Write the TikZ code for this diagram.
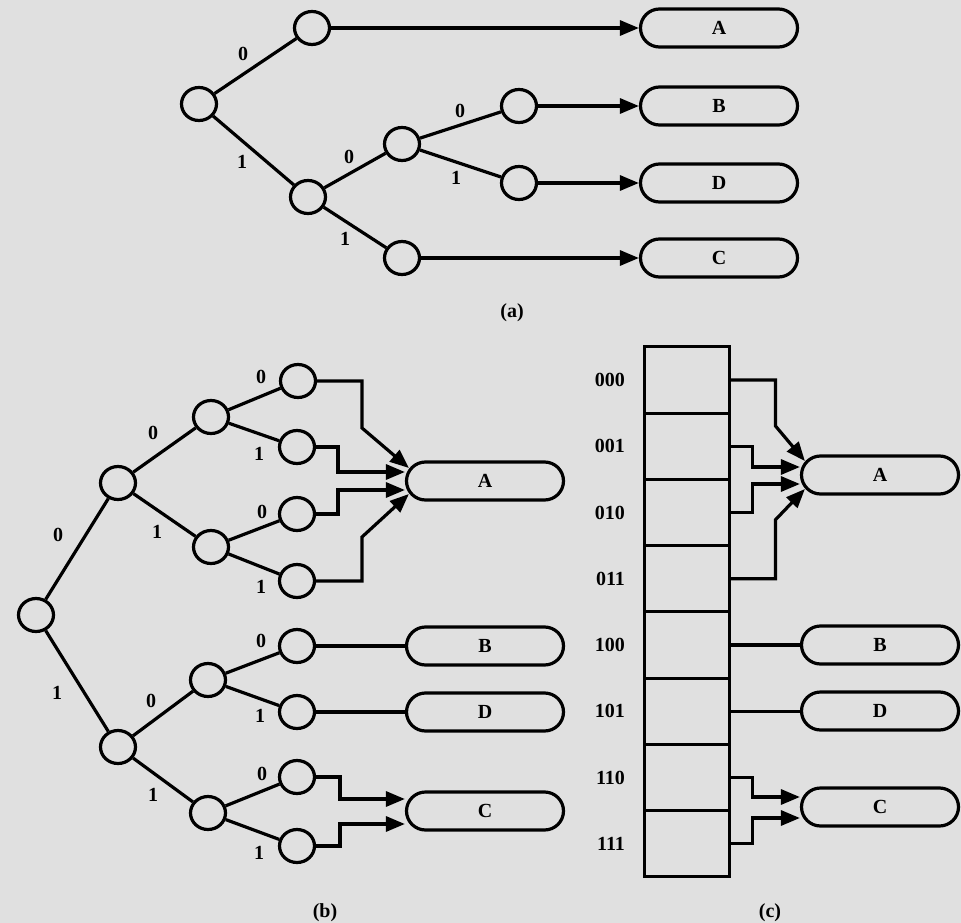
\documentclass[tikz,border=0pt]{standalone}
\usepackage{fontspec}
\setmainfont{Liberation Serif}
\usetikzlibrary{positioning,shapes.geometric,arrows.meta}
\definecolor{paper}{RGB}{224,224,224}
\tikzset{
  tnode/.style={ellipse, draw, minimum width=35pt, minimum height=33pt, inner sep=0pt},
  leafbox/.style={rectangle, draw, rounded corners=19pt, minimum width=157pt, minimum height=38pt, font=\bfseries\fontsize{20}{20}\selectfont},
  lab/.style={inner sep=1pt, font=\bfseries\fontsize{20}{20}\selectfont},
  cell/.style={rectangle, draw, minimum width=85pt, minimum height=66.25pt, inner sep=0pt, outer sep=0pt},
  arr/.style={-{Triangle[length=19pt,width=15pt]}}
}
\begin{document}
\begin{tikzpicture}[x=1pt, y=-1pt, line width=3.2pt]
      \useasboundingbox[fill=paper] (0,0) rectangle (961,923);
      % (a)
      \node (aR) at (199,104) [tnode] {};
      \node (a0) at (312,28) [tnode] {};
      \node (a1) at (308,197) [tnode] {};
      \node (a10) at (402,144) [tnode] {};
      \node (a11) at (402,258) [tnode] {};
      \node (a100) at (519,106) [tnode] {};
      \node (a101) at (519,183) [tnode] {};
      \node (aA) at (719,28) [leafbox] {A};
      \node (aB) at (719,106) [leafbox] {B};
      \node (aD) at (719,183) [leafbox] {D};
      \node (aC) at (719,258) [leafbox] {C};
      \foreach \source/\dest in {aR/a0, aR/a1, a1/a10, a1/a11, a10/a100, a10/a101}
        \path (\source) edge (\dest);
      \foreach \source/\dest in {a0/aA, a100/aB, a101/aD, a11/aC}
        \draw[arr] (\source) -- (\dest);
      \node (la0) at (243,54) [lab] {0};
      \node (la1) at (242,162) [lab] {1};
      \node (la10) at (349,157) [lab] {0};
      \node (la11) at (345,239) [lab] {1};
      \node (la100) at (460,111) [lab] {0};
      \node (la101) at (456,178) [lab] {1};
      \node (capa) at (512,313) [lab] {(a)};
      % (b)
      \node (bR) at (36,615) [tnode] {};
      \node (b0) at (118,483) [tnode] {};
      \node (b1) at (118,747) [tnode] {};
      \node (b00) at (211,417) [tnode] {};
      \node (b01) at (211,547) [tnode] {};
      \node (b10) at (208,680) [tnode] {};
      \node (b11) at (208,813) [tnode] {};
      \node (b000) at (298,381) [tnode] {};
      \node (b001) at (297,447) [tnode] {};
      \node (b010) at (297,514) [tnode] {};
      \node (b011) at (297,581) [tnode] {};
      \node (b100) at (297,646) [tnode] {};
      \node (b101) at (297,712) [tnode] {};
      \node (b110) at (297,777) [tnode] {};
      \node (b111) at (297,846) [tnode] {};
      \node (bA) at (485,481) [leafbox] {A};
      \node (bB) at (485,646) [leafbox] {B};
      \node (bD) at (485,712) [leafbox] {D};
      \node (bC) at (485,811) [leafbox] {C};
      \foreach \source/\dest in {bR/b0, bR/b1, b0/b00, b0/b01, b1/b10, b1/b11, b00/b000, b00/b001, b01/b010, b01/b011, b10/b100, b10/b101, b11/b110, b11/b111}
        \path (\source) edge (\dest);
      \draw[arr] (b000) -- ++(64,0) -- ++(0,47) -- ([xshift=4pt,yshift=13pt]bA.west);
      \draw[arr] (b001) -- ++(41,0) |- ([yshift=9pt]bA.west);
      \draw[arr] (b010) -- ++(41,0) |- ([yshift=-9pt]bA.west);
      \draw[arr] (b011) -- ++(65,0) -- ++(0,-44) -- ([xshift=4pt,yshift=-13pt]bA.west);
      \draw (b100) -- (bB);
      \draw (b101) -- (bD);
      \draw[arr] (b110) -- ++(43,0) |- ([yshift=12pt]bC.west);
      \draw[arr] (b111) -- ++(43,0) |- ([yshift=-13pt]bC.west);
      \node (lb0) at (58,535) [lab] {0};
      \node (lb1) at (57,693) [lab] {1};
      \node (lb00) at (153,433) [lab] {0};
      \node (lb01) at (157,532) [lab] {1};
      \node (lb10) at (151,701) [lab] {0};
      \node (lb11) at (153,795) [lab] {1};
      \node (lb000) at (261,377) [lab] {0};
      \node (lb001) at (259,454) [lab] {1};
      \node (lb010) at (262,512) [lab] {0};
      \node (lb011) at (261,587) [lab] {1};
      \node (lb100) at (261,641) [lab] {0};
      \node (lb101) at (260,716) [lab] {1};
      \node (lb110) at (262,774) [lab] {0};
      \node (lb111) at (259,853) [lab] {1};
      \node (capb) at (325,913) [lab] {(b)};
      % (c)
      \node (r000) at (687,380) [cell] {};
      \node (r001) [cell, below=0pt of r000] {};
      \node (r010) [cell, below=0pt of r001] {};
      \node (r011) [cell, below=0pt of r010] {};
      \node (r100) [cell, below=0pt of r011] {};
      \node (r101) [cell, below=0pt of r100] {};
      \node (r110) [cell, below=0pt of r101] {};
      \node (r111) [cell, below=0pt of r110] {};
      \foreach \r in {000,001,010,011,100,101,110,111}
        \node (t\r) [lab, left=17pt of r\r] {\r};
      \node (cA) at (880,475) [leafbox] {A};
      \node (cB) at (880,645) [leafbox] {B};
      \node (cD) at (880,711) [leafbox] {D};
      \node (cC) at (880,807) [leafbox] {C};
      \draw[arr] (r000.east) -- ++(46,0) -- ++(0,46) -- ([xshift=5pt,yshift=14pt]cA.west);
      \draw[arr] (r001.east) -- ++(23,0) |- ([yshift=8pt]cA.west);
      \draw[arr] (r010.east) -- ++(23,0) |- ([yshift=-9pt]cA.west);
      \draw[arr] (r011.east) -- ++(46,0) -- ++(0,-59) -- ([xshift=5pt,yshift=-14pt]cA.west);
      \draw (r100.east) -- (r100.east -| cB.west);
      \draw (r101.east) -- (r101.east -| cD.west);
      \draw[arr] (r110.east) -- ++(23,0) |- ([yshift=10pt]cC.west);
      \draw[arr] (r111.east) -- ++(23,0) |- ([yshift=-11pt]cC.west);
      \node (capc) at (770,913) [lab] {(c)};
    \end{tikzpicture}
\end{document}
